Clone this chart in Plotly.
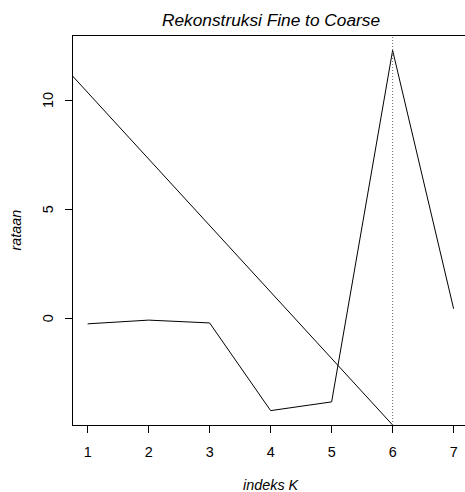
import plotly.graph_objects as go

# data
k_index = [1, 2, 3, 4, 5, 6, 7]
rataan = [-0.26, -0.09, -0.22, -4.24, -3.84, 12.28, 0.43]
ref_line_intercept = 13.4
ref_line_slope = -3.05
vline_k = 6
x_ticks = [1, 2, 3, 4, 5, 6, 7]
y_ticks = [0, 5, 10]

W, H = 465, 492
L, R, T, B = 73, 0, 36, 67

xr = [0.76, 0.76 + (W - L - R) / 61.0]
yr = [-4.90, 12.94]

fig = go.Figure()
fig.add_trace(go.Scatter(x=k_index, y=rataan, mode="lines",
                         line=dict(color="black", width=1), showlegend=False))
lx = [0, 8]
ly = [ref_line_intercept + ref_line_slope * v for v in lx]
fig.add_trace(go.Scatter(x=lx, y=ly, mode="lines",
                         line=dict(color="black", width=1), showlegend=False))
fig.add_trace(go.Scatter(x=[vline_k, vline_k], y=yr, mode="lines",
                         line=dict(color="#666666", width=1, dash="1px,2px"), showlegend=False))

font = "Liberation Sans, Arial, Helvetica, sans-serif"
pw = W - L - R
ph = H - T - B
annotations = [
    dict(text="<i>Rekonstruksi Fine to Coarse</i>", xref="paper", yref="paper",
         x=(271 - L) / pw, y=(H - B - 20) / ph,
         xanchor="center", yanchor="middle", showarrow=False,
         font=dict(size=17.3, family=font)),
    dict(text="<i>indeks K</i>", xref="paper", yref="paper",
         x=(271 - L) / pw, y=(H - B - 485) / ph,
         xanchor="center", yanchor="middle", showarrow=False,
         font=dict(size=14.4, family=font)),
    dict(text="<i>rataan</i>", xref="paper", yref="paper",
         x=(15 - L) / pw, y=0.5, textangle=-90,
         xanchor="center", yanchor="middle", showarrow=False,
         font=dict(size=14.4, family=font)),
]
for v in y_ticks:
    annotations.append(dict(text=str(v), xref="paper", yref="y",
                            x=(48 - L) / pw, y=v, textangle=-90,
                            xanchor="center", yanchor="middle", showarrow=False,
                            font=dict(size=14.4, family=font)))

fig.update_layout(
    width=W, height=H,
    margin=dict(l=L, r=R, t=T, b=B),
    paper_bgcolor="white", plot_bgcolor="white",
    font=dict(family=font, color="black", size=14.4),
    xaxis=dict(range=xr, tickvals=x_ticks, ticks="outside", ticklen=7,
               tickcolor="black", showline=True, linecolor="black", linewidth=1,
               mirror=True, showgrid=False, zeroline=False,
               tickfont=dict(size=14.4), ticklabelstandoff=7),
    yaxis=dict(range=yr, tickvals=y_ticks, ticks="outside", ticklen=7,
               tickcolor="black", showline=True, linecolor="black", linewidth=1,
               showgrid=False, zeroline=False, showticklabels=False),
    annotations=annotations,
)
fig.write_html("out.html", config={"displayModeBar": False},
               post_script="document.body.style.margin='0px';document.body.style.overflow='hidden';")
